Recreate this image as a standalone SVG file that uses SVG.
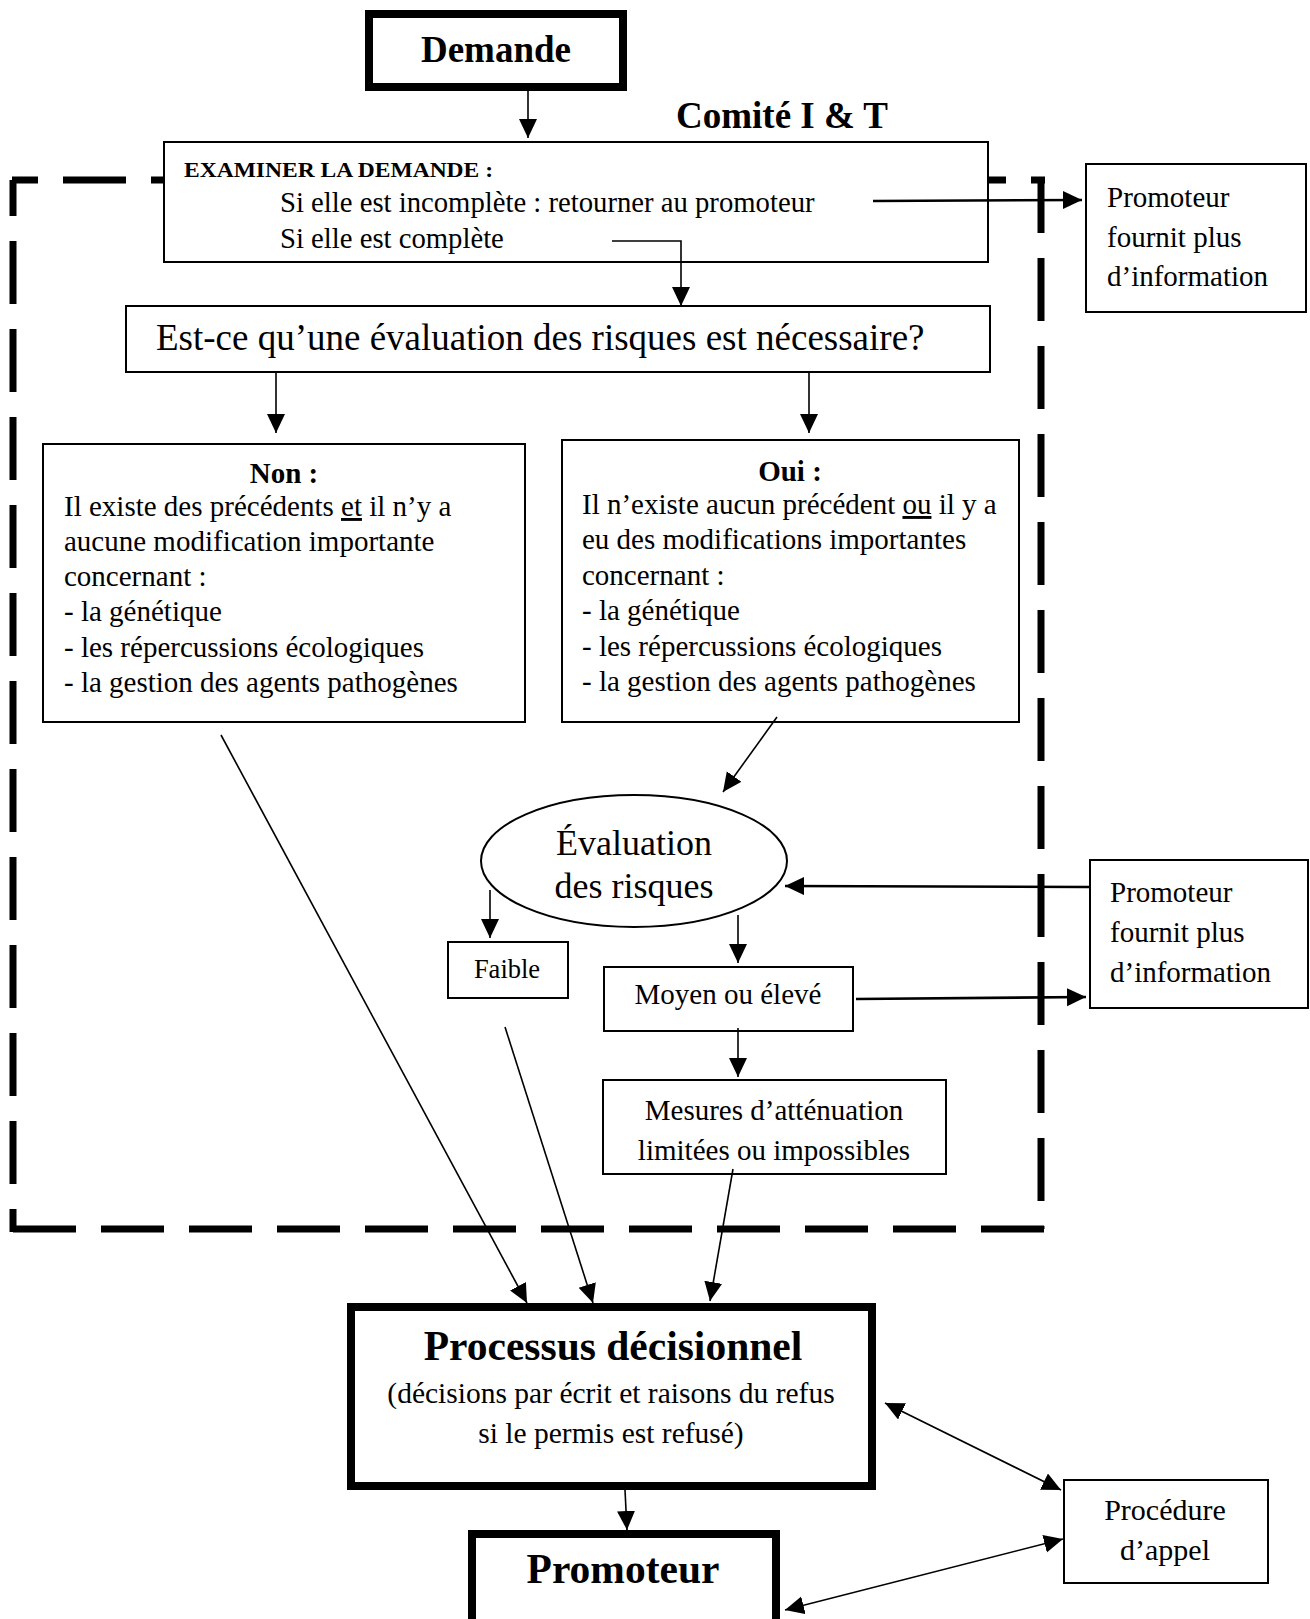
<svg xmlns="http://www.w3.org/2000/svg" width="1310" height="1619" viewBox="0 0 1310 1619">
<style>
text{font-family:"Liberation Serif","Times New Roman",serif;fill:#000}
.b{font-weight:bold}
.box{fill:#fff;stroke:#000;stroke-width:2}
.thick{fill:#fff;stroke:#000;stroke-width:8}
.frame{fill:none;stroke:#000;stroke-width:7;stroke-dasharray:63 25}
.c{fill:none;stroke:#000;stroke-width:1.6}
.cw{fill:none;stroke:#000;stroke-width:2.6}
.body{font-size:29px}
.mid{text-anchor:middle}
</style>
<defs>
<marker id="ah" markerUnits="userSpaceOnUse" markerWidth="20" markerHeight="20" refX="19" refY="9" orient="auto-start-reverse">
<path d="M0,0 L19,9 L0,18 z" fill="#000"/>
</marker>
</defs>
<rect width="1310" height="1619" fill="#fff"/>

<g id="frame">
<path class="frame" d="M12,180 H1045" stroke-dashoffset="37"/>
<path class="frame" d="M1041,180 V1229" stroke-dashoffset="10"/>
<path class="frame" d="M13,1229 H1045"/>
<path class="frame" d="M13,180 V1232" stroke-dashoffset="27"/>
</g>

<g id="label-comite">
<text class="b" x="676" y="128" font-size="37">Comité I &amp; T</text>
</g>

<g id="demande">
<rect class="thick" x="369" y="14" width="254" height="73" stroke-width="7"/>
<text class="b mid" x="496" y="62" font-size="37">Demande</text>
</g>

<g id="examiner">
<rect class="box" x="164" y="142" width="824" height="120"/>
<text class="b" x="184" y="177" font-size="22" textLength="309" lengthAdjust="spacingAndGlyphs">EXAMINER LA DEMANDE :</text>
<text x="280" y="212" font-size="28.7">Si elle est incomplète : retourner au promoteur</text>
<text x="280" y="248" font-size="28.7">Si elle est complète</text>
</g>

<g id="promoteur-info-1">
<rect class="box" x="1086" y="164" width="220" height="148"/>
<text class="body" x="1107" y="207">Promoteur</text>
<text class="body" x="1107" y="247">fournit plus</text>
<text class="body" x="1107" y="286">d’information</text>
</g>

<g id="question">
<rect class="box" x="126" y="306" width="864" height="66"/>
<text x="156" y="350" font-size="37">Est-ce qu’une évaluation des risques est nécessaire?</text>
</g>

<g id="non">
<rect class="box" x="43" y="444" width="482" height="278"/>
<text class="b mid body" x="284" y="483">Non :</text>
<text class="body" x="64" y="516">Il existe des précédents <tspan text-decoration="underline">et</tspan> il n’y a</text>
<text class="body" x="64" y="551">aucune modification importante</text>
<text class="body" x="64" y="586">concernant :</text>
<text class="body" x="64" y="621">- la génétique</text>
<text class="body" x="64" y="657">- les répercussions écologiques</text>
<text class="body" x="64" y="692">- la gestion des agents pathogènes</text>
</g>

<g id="oui">
<rect class="box" x="562" y="440" width="457" height="282"/>
<text class="b mid body" x="790" y="481">Oui :</text>
<text class="body" x="582" y="514">Il n’existe aucun précédent <tspan text-decoration="underline">ou</tspan> il y a</text>
<text class="body" x="582" y="549">eu des modifications importantes</text>
<text class="body" x="582" y="585">concernant :</text>
<text class="body" x="582" y="620">- la génétique</text>
<text class="body" x="582" y="656">- les répercussions écologiques</text>
<text class="body" x="582" y="691">- la gestion des agents pathogènes</text>
</g>

<g id="evaluation">
<ellipse class="box" cx="634" cy="861" rx="153" ry="66"/>
<text class="mid" x="634" y="855" font-size="36">Évaluation</text>
<text class="mid" x="634" y="898" font-size="36">des risques</text>
</g>

<g id="faible">
<rect class="box" x="448" y="942" width="120" height="56"/>
<text class="mid" x="507" y="978" font-size="26.5">Faible</text>
</g>

<g id="moyen">
<rect class="box" x="604" y="967" width="249" height="64"/>
<text class="mid body" x="728" y="1004">Moyen ou élevé</text>
</g>

<g id="promoteur-info-2">
<rect class="box" x="1090" y="860" width="218" height="148"/>
<text class="body" x="1110" y="902">Promoteur</text>
<text class="body" x="1110" y="942">fournit plus</text>
<text class="body" x="1110" y="982">d’information</text>
</g>

<g id="mesures">
<rect class="box" x="603" y="1080" width="343" height="94"/>
<text class="mid body" x="774" y="1120">Mesures d’atténuation</text>
<text class="mid body" x="774" y="1160">limitées ou impossibles</text>
</g>

<g id="processus">
<rect class="thick" x="351" y="1307" width="521" height="179"/>
<text class="b mid" x="613" y="1360" font-size="41.5">Processus décisionnel</text>
<text class="mid" x="611" y="1403" font-size="29.5">(décisions par écrit et raisons du refus</text>
<text class="mid" x="611" y="1443" font-size="29.5">si le permis est refusé)</text>
</g>

<g id="promoteur">
<rect class="thick" x="472" y="1534" width="304" height="110"/>
<text class="b mid" x="623" y="1583" font-size="41.5">Promoteur</text>
</g>

<g id="procedure">
<rect class="box" x="1064" y="1480" width="204" height="103"/>
<text class="mid" x="1165" y="1520" font-size="30">Procédure</text>
<text class="mid" x="1165" y="1560" font-size="30">d’appel</text>
</g>

<g id="connectors">
<path class="c" d="M528,91 V138" marker-end="url(#ah)"/>
<path class="cw" d="M873,201 L1082,200" marker-end="url(#ah)"/>
<path class="c" d="M612,241 H681 V306" marker-end="url(#ah)"/>
<path class="c" d="M276,372 V433" marker-end="url(#ah)"/>
<path class="c" d="M809,372 V433" marker-end="url(#ah)"/>
<path class="c" d="M777,717 L723,792" marker-end="url(#ah)"/>
<path class="c" d="M221,735 L527,1303" marker-end="url(#ah)"/>
<path class="c" d="M490,890 V938" marker-end="url(#ah)"/>
<path class="c" d="M738,915 V963" marker-end="url(#ah)"/>
<path class="cw" d="M1089,887 L785,886" marker-end="url(#ah)"/>
<path class="cw" d="M856,999 L1086,997" marker-end="url(#ah)"/>
<path class="c" d="M738,1028 V1077" marker-end="url(#ah)"/>
<path class="c" d="M505,1027 L593,1303" marker-end="url(#ah)"/>
<path class="c" d="M733,1169 L710,1301" marker-end="url(#ah)"/>
<path class="c" d="M625,1490 L627,1530" marker-end="url(#ah)"/>
<path class="c" d="M885,1403 L1061,1490" marker-start="url(#ah)" marker-end="url(#ah)"/>
<path class="c" d="M1063,1539 L785,1610" marker-start="url(#ah)" marker-end="url(#ah)"/>
</g>
</svg>
